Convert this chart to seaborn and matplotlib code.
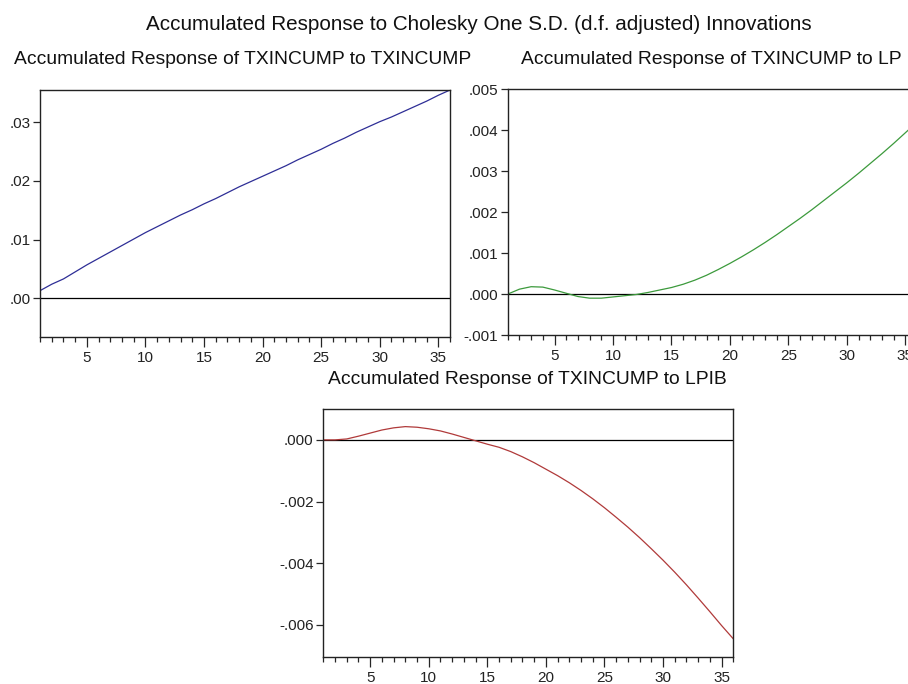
import numpy as np
import pandas as pd
import matplotlib
matplotlib.use("Agg")
import matplotlib.pyplot as plt
from matplotlib.ticker import MultipleLocator, FuncFormatter
import seaborn as sns

# periods and accumulated responses
periods = list(range(1, 37))

resp_txincump = [0.0013, 0.0024, 0.0033, 0.0045, 0.0057, 0.0068, 0.0079, 0.0090, 0.0101,
                 0.0112, 0.0122, 0.0132, 0.0142, 0.0151, 0.0161, 0.0170, 0.0180, 0.0190,
                 0.0199, 0.0208, 0.0217, 0.0226, 0.0236, 0.0245, 0.0254, 0.0264, 0.0273,
                 0.0283, 0.0292, 0.0301, 0.0309, 0.0318, 0.0327, 0.0336, 0.0346, 0.0355]

resp_lp = [0.0, 0.00012, 0.00018, 0.00017, 0.00010, 0.00002, -0.00006, -0.00010, -0.00010,
           -0.00007, -0.00004, -0.00001, 0.00004, 0.00010, 0.00016, 0.00024, 0.00034, 0.00046,
           0.00060, 0.00075, 0.00091, 0.00108, 0.00126, 0.00145, 0.00165, 0.00185, 0.00206,
           0.00228, 0.00250, 0.00272, 0.00295, 0.00319, 0.00343, 0.00368, 0.00394, 0.00420]

resp_lpib = [0.0, 0.0, 0.00003, 0.00012, 0.00022, 0.00032, 0.00039, 0.00043, 0.00041,
             0.00036, 0.00029, 0.00019, 0.00008, -0.00003, -0.00014, -0.00024, -0.00038, -0.00055,
             -0.00074, -0.00095, -0.00116, -0.00139, -0.00164, -0.00191, -0.00220, -0.00251, -0.00283,
             -0.00317, -0.00353, -0.00390, -0.00429, -0.00470, -0.00513, -0.00557, -0.00602, -0.00645]

df = pd.DataFrame({"period": periods, "TXINCUMP": resp_txincump,
                   "LP": resp_lp, "LPIB": resp_lpib})

sns.set_style("white")
plt.rcParams["font.family"] = ["Liberation Sans", "DejaVu Sans"]

fig = plt.figure(figsize=(9.08, 6.84), dpi=100)


def eviews_fmt(v, pos, dec):
    s = f"{v:.{dec}f}"
    return s.replace("0.", ".", 1)


def style_axis(ax, ylim, ystep, dec):
    ax.set_xlim(1, 36)
    ax.set_ylim(*ylim)
    ax.axhline(0, color="black", lw=0.9, zorder=1)
    ax.xaxis.set_major_locator(MultipleLocator(5))
    ax.xaxis.set_minor_locator(MultipleLocator(1))
    ax.yaxis.set_major_locator(MultipleLocator(ystep))
    ax.yaxis.set_major_formatter(FuncFormatter(lambda v, p: eviews_fmt(v, p, dec)))
    ax.tick_params(axis="x", which="major", direction="out", length=7, width=0.9,
                   labelsize=11, pad=3, bottom=True, labelcolor="#222222")
    ax.tick_params(axis="x", which="minor", direction="out", length=3.5, width=0.9, bottom=True)
    ax.tick_params(axis="y", which="major", direction="out", length=5, width=0.9,
                   labelsize=11, pad=2, left=True, labelcolor="#222222")
    for sp in ax.spines.values():
        sp.set_color("#222222")
        sp.set_linewidth(1.0)
    ax.set_xlabel("")
    ax.set_ylabel("")


ax1 = fig.add_axes([0.0441, 0.5073, 0.4515, 0.3611])
sns.lineplot(data=df, x="period", y="TXINCUMP", ax=ax1, color="#2e2e96", lw=0.9)
style_axis(ax1, (-0.0066, 0.0355), 0.01, 2)

ax2 = fig.add_axes([0.5592, 0.5102, 0.4508, 0.3592])
sns.lineplot(data=df, x="period", y="LP", ax=ax2, color="#3c9a3c", lw=0.9)
style_axis(ax2, (-0.001, 0.005), 0.001, 3)

ax3 = fig.add_axes([0.3561, 0.0399, 0.4515, 0.3621])
sns.lineplot(data=df, x="period", y="LPIB", ax=ax3, color="#b03a3a", lw=0.9)
style_axis(ax3, (-0.00703, 0.001), 0.002, 3)

fig.text(479 / 908, 1 - 24 / 684, "Accumulated Response to Cholesky One S.D. (d.f. adjusted) Innovations",
         ha="center", va="center", fontsize=14.9, color="#111111")
fig.text(243 / 908, 1 - 60 / 684, "Accumulated Response of TXINCUMP to TXINCUMP",
         ha="center", va="center", fontsize=13.9, color="#111111")
fig.text(711 / 908, 1 - 59 / 684, "Accumulated Response of TXINCUMP to LP",
         ha="center", va="center", fontsize=13.9, color="#111111")
fig.text(527 / 908, 1 - 379 / 684, "Accumulated Response of TXINCUMP to LPIB",
         ha="center", va="center", fontsize=13.9, color="#111111")

fig.savefig("out.png", dpi=100)
